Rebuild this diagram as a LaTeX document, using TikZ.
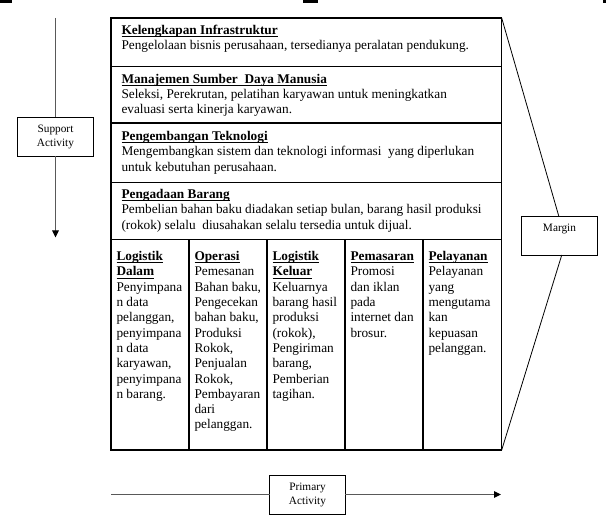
\documentclass[tikz,border=0pt]{standalone}
\usepackage{fontspec}
\setmainfont{Liberation Serif}
\usetikzlibrary{arrows.meta,calc}
\newbox\hdbox
\newcommand\hd[1]{{\bfseries\setbox\hdbox\hbox{#1}\rlap{\vrule width\wd\hdbox height -1.6pt depth 2.6pt}\box\hdbox}}
\newcommand\mlines[1]{\vtop{\baselineskip=15.3pt\halign{##\hfil\cr#1\crcr}}}
\begin{document}
\begin{tikzpicture}[x=1pt,y=-1pt,
  every node/.style={inner sep=0pt, outer sep=0pt},
  cell/.style={draw, line width=1.1pt, anchor=north west},
  body/.style={anchor=base west, font=\fontsize{13.3}{15.3}\selectfont},
  lbl/.style={draw, line width=0.8pt, minimum width=75.5pt, minimum height=39pt, font=\fontsize{11.3}{14}\selectfont, align=center},
  lbltext/.style={anchor=base, font=\fontsize{11.3}{14}\selectfont},
  conn/.style={draw=black!65, line width=1pt},
  arr/.style={conn, -{Triangle[length=7pt,width=6.5pt,color=black]}},
  diag/.style={draw, line width=0.8pt}]
\useasboundingbox (0,0) rectangle (614,518);
% small marks at the top edge
\fill (0,0) rectangle (12,3);
\fill (303,0) rectangle (318,3);
\fill (603,0) rectangle (606,3);
% support rows
\node[cell, minimum width=390.7, minimum height=48.7] (infra) at (111,18) {};
\node[cell, minimum width=390.7, minimum height=56.3] (sdm) at (111,66.7) {};
\node[cell, minimum width=390.7, minimum height=59.7] (tek) at (111,123) {};
\node[cell, minimum width=390.7, minimum height=56.8] (barang) at (111,182.7) {};
% primary columns
\node[cell, minimum width=78, minimum height=210.5] (c1) at (111,239.5) {};
\node[cell, minimum width=78, minimum height=210.5] (c2) at (189,239.5) {};
\node[cell, minimum width=78, minimum height=210.5] (c3) at (267,239.5) {};
\node[cell, minimum width=78, minimum height=210.5] (c4) at (345,239.5) {};
\node[cell, minimum width=78.7, minimum height=210.5] (c5) at (423,239.5) {};
% row texts
\node[body] (t1) at (121.5,34.5) {\mlines{\hd{Kelengkapan Infrastruktur}\cr Pengelolaan bisnis perusahaan, tersedianya peralatan pendukung.}};
\node[body] (t2) at (121.5,83.3) {\mlines{\hd{Manajemen Sumber\ \ Daya Manusia}\cr Seleksi, Perekrutan, pelatihan karyawan untuk meningkatkan\cr evaluasi serta kinerja karyawan.}};
\node[body] (t3) at (121.5,140.5) {\mlines{\hd{Pengembangan Teknologi}\cr Mengembangkan sistem dan teknologi informasi\ \ yang diperlukan\cr untuk kebutuhan perusahaan.}};
\node[body] (t4) at (121.5,198.5) {\mlines{\hd{Pengadaan Barang}\cr Pembelian bahan baku diadakan setiap bulan, barang hasil produksi\cr (rokok) selalu\ \ diusahakan selalu tersedia untuk dijual.}};
% column texts
\node[body] (k1) at (116.5,260.7) {\mlines{\hd{Logistik}\cr\hd{Dalam}\cr Penyimpana\cr n data\cr pelanggan,\cr penyimpana\cr n data\cr karyawan,\cr penyimpana\cr n barang.}};
\node[body] (k2) at (194.5,260.7) {\mlines{\hd{Operasi}\cr Pemesanan\cr Bahan baku,\cr Pengecekan\cr bahan baku,\cr Produksi\cr Rokok,\cr Penjualan\cr Rokok,\cr Pembayaran\cr dari\cr pelanggan.}};
\node[body] (k3) at (272.5,260.7) {\mlines{\hd{Logistik}\cr\hd{Keluar}\cr Keluarnya\cr barang hasil\cr produksi\cr (rokok),\cr Pengiriman\cr barang,\cr Pemberian\cr tagihan.}};
\node[body] (k4) at (350.5,260.7) {\mlines{\hd{Pemasaran}\cr Promosi\cr dan iklan\cr pada\cr internet dan\cr brosur.}};
\node[body] (k5) at (428.5,260.7) {\mlines{\hd{Pelayanan}\cr Pelayanan\cr yang\cr mengutama\cr kan\cr kepuasan\cr pelanggan.}};
% support activity
\node[lbl] (support) at (55.5,136.5) {Support\\Activity};
\coordinate (stop) at (55.5,18);
\coordinate (sbot) at (55.5,237.5);
\draw[conn] (stop) -- (support.north);
\draw[arr] (support.south) -- (sbot);
% primary activity
\node[lbl] (primary) at (307.5,494.5) {Primary\\Activity};
\coordinate (pstart) at (111,494.5);
\coordinate (pend) at (501,494.5);
\draw[conn] (pstart) -- (primary.west);
\draw[arr] (primary.east) -- (pend);
% margin
\node[lbl] (margin) at (559.5,235.5) {};
\node[lbltext] (mtext) at (559.5,231.7) {Margin};
\draw[diag] (infra.north east) -- ($(margin.north west)!0.49!(margin.north east)$);
\draw[diag] ($(margin.south west)!0.53!(margin.south east)$) -- (c5.south east);
\end{tikzpicture}
\end{document}
